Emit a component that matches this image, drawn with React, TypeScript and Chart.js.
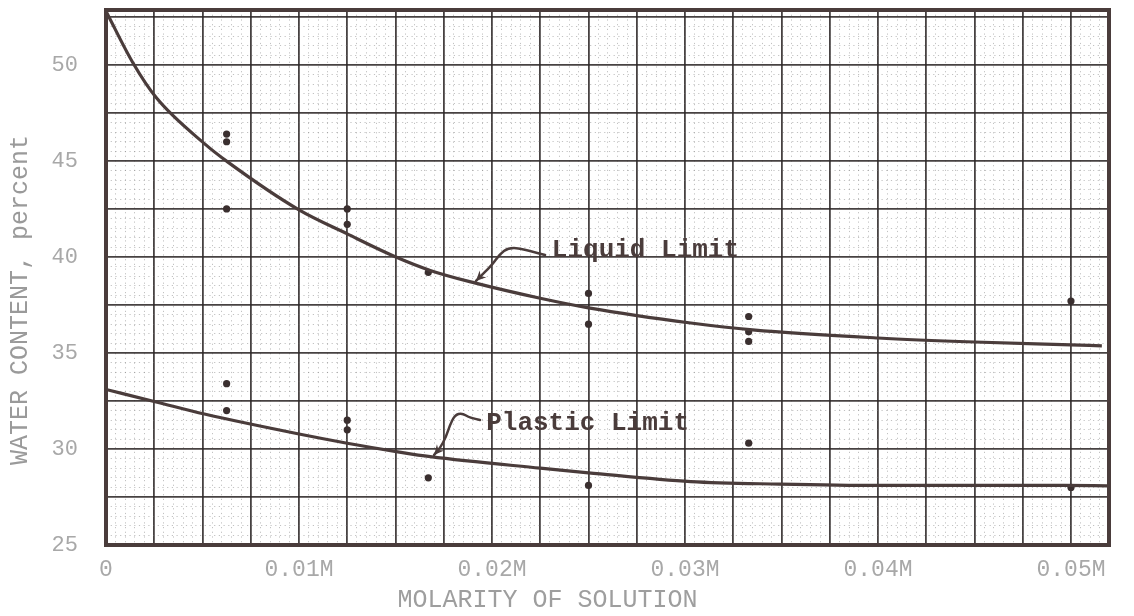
import React, { useEffect, useRef } from "react";
import { Chart, registerables } from "chart.js";

Chart.register(...registerables);

// ---- Data ----
const liquidPointsX = [0.00625, 0.00625, 0.00625, 0.0125, 0.0125, 0.0167, 0.025, 0.025, 0.0333, 0.0333, 0.0333, 0.05];
const liquidPointsY = [46.4, 46.0, 42.5, 42.5, 41.7, 39.2, 38.1, 36.5, 36.9, 36.1, 35.6, 37.7];

const plasticPointsX = [0.00625, 0.00625, 0.0125, 0.0125, 0.0167, 0.025, 0.0333, 0.05];
const plasticPointsY = [33.4, 32.0, 31.5, 31.0, 28.5, 28.1, 30.3, 28.0];

const liquidCurveX = [0, 0.0014, 0.0026, 0.0051, 0.0063, 0.01, 0.0125, 0.0149, 0.0168, 0.0191, 0.0225, 0.025, 0.0303, 0.0335, 0.04, 0.045, 0.05, 0.0516];
const liquidCurveY = [52.8, 50.1, 48.3, 45.9, 44.95, 42.45, 41.2, 40.05, 39.3, 38.65, 37.85, 37.35, 36.56, 36.2, 35.78, 35.57, 35.42, 35.37];

const plasticCurveX = [0, 0.0026, 0.0051, 0.01, 0.0125, 0.0152, 0.0168, 0.0225, 0.025, 0.0303, 0.0349, 0.04, 0.045, 0.0496, 0.0519];
const plasticCurveY = [33.1, 32.45, 31.82, 30.78, 30.3, 29.84, 29.6, 29.0, 28.76, 28.3, 28.17, 28.1, 28.1, 28.1, 28.08];

const xTickLabels = ["0", "0.01M", "0.02M", "0.03M", "0.04M", "0.05M"];
const yTickLabels = ["25", "30", "35", "40", "45", "50"];

const xTitle = "MOLARITY OF SOLUTION";
const yTitle = "WATER CONTENT, percent";

const liquidLabel = { text: "Liquid Limit", x: 0.0231, y: 40.0 };
const plasticLabel = { text: "Plastic Limit", x: 0.0197, y: 31.0 };

const liquidLeaderX = [0.02275, 0.02145, 0.02083, 0.02041, 0.02, 0.01917];
const liquidLeaderY = [40.1, 40.47, 40.47, 40.16, 39.58, 38.75];
const plasticLeaderX = [0.01938, 0.01886, 0.01845, 0.01808, 0.01782, 0.01762, 0.01731, 0.017];
const plasticLeaderY = [31.51, 31.61, 31.875, 31.77, 31.25, 30.625, 30.05, 29.69];

// ---- Axis ranges ----
const X_MIN = 0;
const X_MAX = 0.05197;
const Y_MIN = 25;
const Y_MAX = 52.86;

const INK = "#4a3c3b";

const zip = (xs: number[], ys: number[]) => xs.map((x, i) => ({ x, y: ys[i] }));

const annotationPlugin = {
  id: "graphPaperAnnotations",
  afterDatasetsDraw(chart: any) {
    const { ctx, chartArea, scales } = chart;
    const xs = scales.x;
    const ys = scales.y;
    const px = (v: number) => xs.getPixelForValue(v);
    const py = (v: number) => ys.getPixelForValue(v);

    ctx.save();
    // frame
    ctx.strokeStyle = INK;
    ctx.lineWidth = 4;
    ctx.strokeRect(chartArea.left, chartArea.top, chartArea.right - chartArea.left, chartArea.bottom - chartArea.top);

    // labels
    ctx.fillStyle = INK;
    ctx.font = "bold 26px 'Liberation Mono', 'Courier New', monospace";
    ctx.textAlign = "left";
    ctx.textBaseline = "alphabetic";
    ctx.fillText(liquidLabel.text, px(liquidLabel.x), py(liquidLabel.y));
    ctx.fillText(plasticLabel.text, px(plasticLabel.x), py(plasticLabel.y));

    const drawLeader = (lx: number[], ly: number[]) => {
      const pts = lx.map((x, i) => [px(x), py(ly[i])]);
      ctx.beginPath();
      ctx.moveTo(pts[0][0], pts[0][1]);
      for (let i = 1; i < pts.length - 1; i++) {
        const mx = (pts[i][0] + pts[i + 1][0]) / 2;
        const my = (pts[i][1] + pts[i + 1][1]) / 2;
        ctx.quadraticCurveTo(pts[i][0], pts[i][1], mx, my);
      }
      const end = pts[pts.length - 1];
      ctx.lineTo(end[0], end[1]);
      ctx.strokeStyle = INK;
      ctx.lineWidth = 2.5;
      ctx.lineCap = "round";
      ctx.stroke();
      // arrow head
      const prev = pts[pts.length - 2];
      const ang = Math.atan2(end[1] - prev[1], end[0] - prev[0]);
      const len = 11;
      ctx.beginPath();
      ctx.moveTo(end[0], end[1]);
      ctx.lineTo(end[0] - len * Math.cos(ang - 0.45), end[1] - len * Math.sin(ang - 0.45));
      ctx.lineTo(end[0] - len * 0.6 * Math.cos(ang), end[1] - len * 0.6 * Math.sin(ang));
      ctx.lineTo(end[0] - len * Math.cos(ang + 0.45), end[1] - len * Math.sin(ang + 0.45));
      ctx.closePath();
      ctx.fillStyle = INK;
      ctx.fill();
    };
    drawLeader(liquidLeaderX, liquidLeaderY);
    drawLeader(plasticLeaderX, plasticLeaderY);
    ctx.restore();
  },
};

export default function App() {
  const canvasRef = useRef<HTMLCanvasElement | null>(null);

  useEffect(() => {
    const canvas = canvasRef.current;
    if (!canvas) return;

    const xTickValues: number[] = [];
    for (let k = 0; k / 2000 <= X_MAX + 1e-9; k++) xTickValues.push(k / 2000);
    const yTickValues: number[] = [];
    for (let k = 0; Y_MIN + k / 2 <= Y_MAX + 1e-9; k++) yTickValues.push(Y_MIN + k / 2);

    const xIndex = (v: number) => Math.round(v * 2000);
    const yIndex = (v: number) => Math.round((v - Y_MIN) * 2);

    const majorColor = "rgba(45,40,40,0.88)";
    const minorColor = "rgba(120,120,120,0.45)";

    const chart = new Chart(canvas, {
      type: "scatter",
      data: {
        datasets: [
          {
            label: "Liquid Limit curve",
            data: zip(liquidCurveX, liquidCurveY),
            showLine: true,
            borderColor: INK,
            borderWidth: 3.2,
            pointRadius: 0,
            cubicInterpolationMode: "monotone",
          },
          {
            label: "Plastic Limit curve",
            data: zip(plasticCurveX, plasticCurveY),
            showLine: true,
            borderColor: INK,
            borderWidth: 3.2,
            pointRadius: 0,
            cubicInterpolationMode: "monotone",
          },
          {
            label: "Liquid Limit tests",
            data: zip(liquidPointsX, liquidPointsY),
            showLine: false,
            pointRadius: 3.6,
            pointBackgroundColor: "#3a2f2f",
            pointBorderWidth: 0,
          },
          {
            label: "Plastic Limit tests",
            data: zip(plasticPointsX, plasticPointsY),
            showLine: false,
            pointRadius: 3.6,
            pointBackgroundColor: "#3a2f2f",
            pointBorderWidth: 0,
          },
        ],
      },
      options: {
        animation: false,
        responsive: false,
        devicePixelRatio: 1,
        layout: { autoPadding: false, padding: { left: 0, top: 10, right: 25, bottom: 0 } },
        plugins: {
          legend: { display: false },
          tooltip: { enabled: false },
        },
        scales: {
          x: {
            type: "linear",
            min: X_MIN,
            max: X_MAX,
            afterBuildTicks: (scale: any) => {
              scale.ticks = xTickValues.map((value) => ({ value }));
            },
            afterFit: (scale: any) => {
              scale.height = 71;
              scale.paddingLeft = 0;
              scale.paddingRight = 0;
            },
            border: {
              display: false,
              dash: (ctx: any) => (ctx.tick && xIndex(ctx.tick.value) % 5 === 0 ? [] : [1.2, 3.5]),
            },
            grid: {
              drawTicks: false,
              color: (ctx: any) => (ctx.tick && xIndex(ctx.tick.value) % 5 === 0 ? majorColor : minorColor),
              lineWidth: (ctx: any) => (ctx.tick && xIndex(ctx.tick.value) % 5 === 0 ? 1.8 : 1),
            },
            ticks: {
              autoSkip: false,
              maxRotation: 0,
              padding: 11,
              color: "#a8a8a8",
              font: { family: "'Liberation Mono', monospace", size: 23 },
              callback: (value: any) => {
                const k = xIndex(Number(value));
                return k % 20 === 0 ? xTickLabels[k / 20] : "";
              },
            },
            title: {
              display: true,
              text: xTitle + "        ",
              color: "#9e9e9e",
              font: { family: "'Liberation Mono', monospace", size: 25 },
              padding: { top: 0, bottom: 1 },
            },
          },
          y: {
            type: "linear",
            min: Y_MIN,
            max: Y_MAX,
            afterBuildTicks: (scale: any) => {
              scale.ticks = yTickValues.map((value) => ({ value }));
            },
            afterFit: (scale: any) => {
              scale.width = 106;
              scale.paddingTop = 0;
              scale.paddingBottom = 0;
            },
            border: {
              display: false,
              dash: (ctx: any) => (ctx.tick && yIndex(ctx.tick.value) % 5 === 0 ? [] : [1.2, 3.5]),
            },
            grid: {
              drawTicks: false,
              color: (ctx: any) => (ctx.tick && yIndex(ctx.tick.value) % 5 === 0 ? majorColor : minorColor),
              lineWidth: (ctx: any) => (ctx.tick && yIndex(ctx.tick.value) % 5 === 0 ? 1.8 : 1),
            },
            ticks: {
              autoSkip: false,
              padding: 28,
              color: "#a8a8a8",
              font: { family: "'Liberation Mono', monospace", size: 22 },
              callback: (value: any) => {
                const k = yIndex(Number(value));
                return k % 10 === 0 ? yTickLabels[k / 10] : "";
              },
            },
            title: {
              display: true,
              text: yTitle + "   ",
              color: "#9a9a9a",
              font: { family: "'Liberation Mono', monospace", size: 25 },
              padding: { top: 5, bottom: 0 },
            },
          },
        },
      },
      plugins: [annotationPlugin],
    } as any);

    return () => chart.destroy();
  }, []);

  return (
    <div style={{ position: "absolute", left: 0, top: 0, width: 1134, height: 616, background: "#fff" }}>
      <canvas ref={canvasRef} width={1134} height={616} />
    </div>
  );
}
